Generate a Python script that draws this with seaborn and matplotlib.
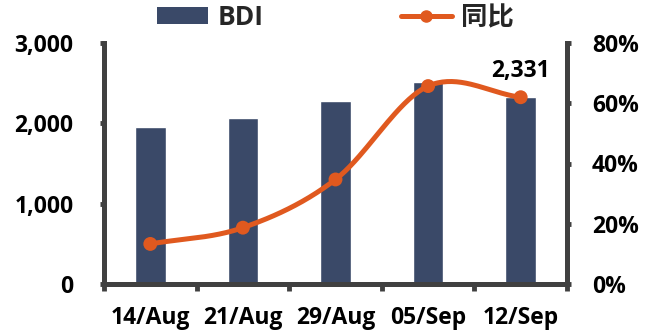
import numpy as np
import pandas as pd
import matplotlib
matplotlib.use("Agg")
import matplotlib.pyplot as plt
from matplotlib.patches import Patch
from matplotlib.lines import Line2D
import seaborn as sns

# Weekly BDI level and year-on-year change
dates = ["14/Aug", "21/Aug", "29/Aug", "05/Sep", "12/Sep"]
bdi = [1950, 2062, 2275, 2510, 2331]
yoy_pct = [13.3, 18.7, 34.7, 65.7, 62.0]
left_ticks = [0, 1000, 2000, 3000]
right_ticks = [0, 20, 40, 60, 80]

BAR_COLOR = "#3A4968"
LINE_COLOR = "#E0591F"
AXIS_COLOR = "#404040"
TICK_SIZE = 16.5

sns.set_theme(style="white")
plt.rcParams["font.family"] = ["Open Sans", "Noto Sans CJK SC", "DejaVu Sans"]
plt.rcParams["font.weight"] = "bold"

fig = plt.figure(figsize=(6.45, 3.35), dpi=100)
ax = fig.add_axes([104 / 645, 1 - 284 / 335, (567 - 104) / 645, (284 - 43) / 335])

df = pd.DataFrame({"date": dates, "bdi": bdi, "yoy": yoy_pct})
sns.barplot(data=df, x="date", y="bdi", ax=ax, color=BAR_COLOR, width=0.33,
            saturation=1)

ax.set_xlim(-0.5, len(dates) - 0.5)
ax.set_ylim(0, 3000)
ax.set_yticks(left_ticks)
ax.set_yticklabels([f"{v:,}" for v in left_ticks])
ax.set_xlabel("")
ax.set_ylabel("")

# category boundary ticks on the x axis, labels at the centres
ax.set_xticks(np.arange(len(dates)))
ax.set_xticklabels(dates)
ax.set_xticks(np.arange(-0.5, len(dates)), minor=True)
ax.tick_params(axis="x", which="major", length=0, pad=16, labelsize=TICK_SIZE,
               labelcolor="black")
ax.tick_params(axis="x", which="minor", length=5, width=3.5, color=AXIS_COLOR,
               direction="out", bottom=True)
ax.tick_params(axis="y", length=3, width=3.5, color=AXIS_COLOR, pad=19,
               labelsize=TICK_SIZE, labelcolor="black", left=True)

for side in ["top", "right"]:
    ax.spines[side].set_visible(False)
for side in ["left", "bottom"]:
    ax.spines[side].set_color(AXIS_COLOR)
    ax.spines[side].set_linewidth(3.6)
    ax.spines[side].set_capstyle("projecting")

# value label on the latest bar
ax.annotate(f"{bdi[-1]:,}", xy=(len(dates) - 1, bdi[-1]), xytext=(0, 10),
            textcoords="offset points", ha="center", va="bottom",
            fontsize=TICK_SIZE, fontweight="bold", color="black")

# year-on-year line on a secondary axis
ax2 = ax.twinx()
ax2.set_ylim(0, 80)
ax2.set_yticks(right_ticks)
ax2.set_yticklabels([f"{v}%" for v in right_ticks])
ax2.tick_params(axis="y", length=3, width=3.5, color=AXIS_COLOR, pad=15,
                labelsize=TICK_SIZE, labelcolor="black", right=True)
for side in ["top", "left", "bottom"]:
    ax2.spines[side].set_visible(False)
ax2.spines["right"].set_color(AXIS_COLOR)
ax2.spines["right"].set_linewidth(3.6)
ax2.grid(False)
ax.grid(False)

# smoothed curve (Catmull-Rom through the weekly points)
xs = np.arange(len(yoy_pct), dtype=float)
ys = np.array(yoy_pct, dtype=float)
px = np.concatenate([[2 * xs[0] - xs[1]], xs, [2 * xs[-1] - xs[-2]]])
py = np.concatenate([[2 * ys[0] - ys[1]], ys, [2 * ys[-1] - ys[-2]]])
cx, cy = [], []
t = np.linspace(0, 1, 40)
for i in range(1, len(px) - 2):
    p0, p1, p2, p3 = (np.array([px[j], py[j]]) for j in range(i - 1, i + 3))
    m1 = (p2 - p0) / 2
    m2 = (p3 - p1) / 2
    h00 = 2 * t**3 - 3 * t**2 + 1
    h10 = t**3 - 2 * t**2 + t
    h01 = -2 * t**3 + 3 * t**2
    h11 = t**3 - t**2
    seg = (np.outer(h00, p1) + np.outer(h10, m1) + np.outer(h01, p2)
           + np.outer(h11, m2))
    cx.extend(seg[:, 0])
    cy.extend(seg[:, 1])
ax2.plot(cx, cy, color=LINE_COLOR, lw=3.6, solid_capstyle="round", zorder=3)
sns.scatterplot(x=xs, y=ys, ax=ax2, color=LINE_COLOR, s=100, edgecolor="none",
                zorder=4, legend=False)

# legend across the top
handles = [
    Patch(facecolor=BAR_COLOR, edgecolor="none", label="BDI"),
    Line2D([0], [0], color=LINE_COLOR, lw=3.6, marker="o", markersize=8,
           label="同比"),
]
fig.legend(handles=handles, loc="center", bbox_to_anchor=(0.52, 0.948), ncol=2,
           frameon=False, prop={"size": 19, "weight": "bold"},
           handlelength=1.95, handleheight=0.6, handletextpad=0.35,
           columnspacing=5.2)

fig.savefig("out.png", dpi=100)
